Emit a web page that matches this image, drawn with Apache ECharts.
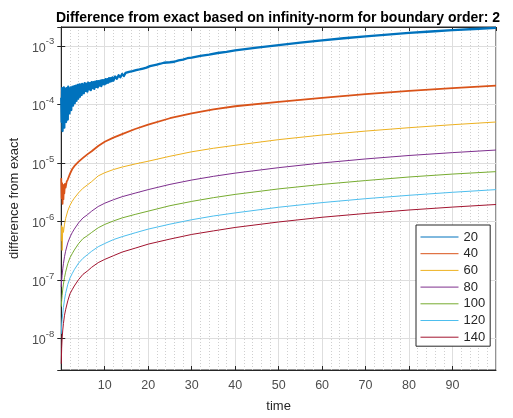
<!DOCTYPE html>
<html><head><meta charset="utf-8">
<script src="https://cdn.jsdelivr.net/npm/echarts@6/dist/echarts.min.js"></script>
<style>html,body{margin:0;padding:0;background:#fff}#c{width:513px;height:418px}</style>
</head><body><div id="c"></div>
<script>
const titleText = 'Difference from exact based on infinity-norm for boundary order: 2';
const seriesNames = ['20', '40', '60', '80', '100', '120', '140'];
const colors = ['#0072BD', '#D95319', '#EDB120', '#7E2F8E', '#77AC30', '#4DBEEE', '#A2142F'];
const xTickLabels = [10, 20, 30, 40, 50, 60, 70, 80, 90];

// N = 20 : [time, difference] (noisy)
const blueData = [
  [0.0,1.3e-4],[0.1,5.0e-5],[0.2,1.9e-4],[0.3,3.5e-5],[0.4,1.6e-4],[0.5,6.5e-5],[0.6,1.95e-4],[0.7,4.0e-5],[0.8,1.7e-4],[0.9,8.0e-5],
  [1.0,1.85e-4],[1.1,5.0e-5],[1.2,1.9e-4],[1.3,9.0e-5],[1.4,1.75e-4],[1.5,5.5e-5],[1.6,2.0e-4],[1.7,1.0e-4],[1.8,1.8e-4],[1.9,7.0e-5],
  [2.0,1.9e-4],[2.1,1.1e-4],[2.2,1.95e-4],[2.3,8.0e-5],[2.4,1.85e-4],[2.5,1.2e-4],[2.6,2.0e-4],[2.7,9.5e-5],[2.8,1.9e-4],[2.9,1.3e-4],
  [3.0,2.05e-4],[3.1,1.05e-4],[3.2,1.95e-4],[3.3,1.4e-4],[3.4,2.1e-4],[3.5,1.15e-4],[3.6,2.0e-4],[3.7,1.45e-4],[3.8,2.15e-4],[3.9,1.25e-4],
  [4.0,2.1e-4],[4.1,1.5e-4],[4.2,2.2e-4],[4.3,1.35e-4],[4.4,2.15e-4],[4.5,1.55e-4],[4.6,2.2e-4],[4.7,1.45e-4],[4.8,2.25e-4],[4.9,1.6e-4],
  [5.0,2.2e-4],[5.2,1.55e-4],[5.4,2.3e-4],[5.6,1.7e-4],[5.8,2.25e-4],[6.0,1.65e-4],[6.2,2.35e-4],[6.4,1.8e-4],[6.6,2.3e-4],[6.8,1.75e-4],
  [7.0,2.4e-4],[7.2,1.9e-4],[7.4,2.4e-4],[7.6,1.85e-4],[7.8,2.45e-4],[8.0,2.0e-4],[8.2,2.5e-4],[8.4,1.95e-4],[8.6,2.5e-4],[8.8,2.1e-4],
  [9.0,2.55e-4],[9.2,2.05e-4],[9.4,2.6e-4],[9.6,2.2e-4],[9.8,2.6e-4],[10.0,2.2e-4],[10.2,2.7e-4],[10.4,2.3e-4],[10.6,2.7e-4],[10.8,2.35e-4],
  [11.0,2.8e-4],[11.2,2.45e-4],[11.4,2.8e-4],[11.6,2.5e-4],[11.8,2.9e-4],[12.0,2.55e-4],[12.4,3.0e-4],[12.8,2.75e-4],[13.2,3.15e-4],[13.6,2.9e-4],
  [14.0,3.3e-4],[14.4,3.05e-4],[14.8,3.45e-4],[15.2,3.2e-4],[15.6,3.6e-4],[16.0,3.35e-4],[16.4,3.7e-4],[16.8,3.5e-4],[17.2,3.85e-4],[17.6,3.6e-4],
  [18.0,3.95e-4],[18.4,3.75e-4],[18.8,4.1e-4],[19.2,3.9e-4],[19.6,4.25e-4],[20.0,4.15e-4],[20.4,4.5e-4],[20.8,4.3e-4],[21.2,4.65e-4],[21.6,4.5e-4],
  [22.0,4.8e-4],[22.4,4.6e-4],[22.8,4.95e-4],[23.2,4.8e-4],[23.6,5.15e-4],[24.0,4.95e-4],[25,5.25e-4],[26,5.35e-4],[27,5.65e-4],[28,5.8e-4],
  [29,6.15e-4],[30,6.3e-4],[32,6.75e-4],[34,7.1e-4],[36,7.55e-4],[38,7.9e-4],[40,8.35e-4],[45,9.3e-4],[50,1.03e-3],[55,1.14e-3],
  [60,1.24e-3],[65,1.35e-3],[70,1.45e-3],[75,1.56e-3],[80,1.66e-3],[85,1.76e-3],[90,1.85e-3],[95,1.94e-3],[100,2.03e-3]
];

// N = 40 (slightly noisy near t = 0)
const orangeTimes = [0, 0.1, 0.2, 0.3, 0.4, 0.5, 0.6, 0.7, 0.85, 1, 1.25, 1.5, 2, 2.5, 3, 4, 5, 6, 7, 8.5, 10, 12, 14, 17, 20, 25, 30, 35, 40, 50, 60, 70, 80, 90, 100];
const orangeValues = [5.5e-6, 2.5e-6, 4.5e-6, 2.0e-6, 4.0e-6, 2.4e-6, 4.2e-6, 3.0e-6, 4.4e-6, 3.8e-6, 4.8e-6, 5.2e-6, 6.5e-6, 7.8e-6, 8.8e-6, 1.05e-5, 1.22e-5, 1.4e-5, 1.58e-5, 1.95e-5, 2.3e-5, 2.7e-5, 3.1e-5, 3.8e-5, 4.5e-5, 5.8e-5, 7e-5, 8.2e-5, 9.3e-5, 1.1e-4, 1.29e-4, 1.5e-4, 1.7e-4, 1.9e-4, 2.1e-4];

// N = 60 ... 140, shared time samples
const times = [0, 0.1, 0.2, 0.35, 0.5, 0.75, 1, 1.5, 2, 2.5, 3, 4, 5, 6, 7, 8.5, 10, 12, 14, 17, 20, 25, 30, 35, 40, 50, 60, 70, 80, 90, 100];
const yellowValues = [4.6e-7, 8.5e-7, 3.2e-7, 8e-7, 6.5e-7, 9e-7, 1.12e-6, 1.52e-6, 1.88e-6, 2.2e-6, 2.5e-6, 3.1e-6, 3.7e-6, 4.2e-6, 4.8e-6, 6.0e-6, 6.8e-6, 7.7e-6, 8.5e-6, 9.6e-6, 1.07e-5, 1.3e-5, 1.55e-5, 1.78e-5, 2.0e-5, 2.5e-5, 3.0e-5, 3.5e-5, 4.0e-5, 4.5e-5, 5.0e-5];
const purpleValues = [7.6e-8, 1.0e-7, 1.2e-7, 1.55e-7, 1.9e-7, 2.5e-7, 3.1e-7, 4.3e-7, 5.4e-7, 6.4e-7, 7.4e-7, 9.5e-7, 1.15e-6, 1.3e-6, 1.5e-6, 1.8e-6, 2.05e-6, 2.35e-6, 2.65e-6, 3.05e-6, 3.5e-6, 4.3e-6, 5.1e-6, 5.9e-6, 6.7e-6, 8.3e-6, 1.0e-5, 1.17e-5, 1.34e-5, 1.5e-5, 1.66e-5];
const greenValues = [3.5e-8, 4.5e-8, 5.4e-8, 7e-8, 8.5e-8, 1.1e-7, 1.36e-7, 1.9e-7, 2.4e-7, 2.8e-7, 3.25e-7, 4.2e-7, 5.1e-7, 5.7e-7, 6.5e-7, 7.8e-7, 8.9e-7, 1.02e-6, 1.15e-6, 1.32e-6, 1.5e-6, 1.86e-6, 2.2e-6, 2.55e-6, 2.9e-6, 3.6e-6, 4.3e-6, 5.0e-6, 5.75e-6, 6.45e-6, 7.1e-6];
const cyanValues = [1.2e-8, 1.7e-8, 2.1e-8, 2.7e-8, 3.4e-8, 4.6e-8, 5.9e-8, 8.4e-8, 1.08e-7, 1.28e-7, 1.5e-7, 1.95e-7, 2.35e-7, 2.7e-7, 3.1e-7, 3.7e-7, 4.2e-7, 4.9e-7, 5.5e-7, 6.4e-7, 7.4e-7, 9.0e-7, 1.07e-6, 1.24e-6, 1.4e-6, 1.75e-6, 2.1e-6, 2.45e-6, 2.8e-6, 3.15e-6, 3.5e-6];
const maroonValues = [3.7e-9, 7e-9, 1.0e-8, 1.4e-8, 1.8e-8, 2.5e-8, 3.1e-8, 4.4e-8, 5.8e-8, 6.8e-8, 7.9e-8, 1.02e-7, 1.25e-7, 1.42e-7, 1.65e-7, 1.98e-7, 2.25e-7, 2.6e-7, 3.0e-7, 3.5e-7, 4.1e-7, 5.0e-7, 6.0e-7, 6.9e-7, 7.9e-7, 9.8e-7, 1.18e-6, 1.37e-6, 1.57e-6, 1.76e-6, 1.95e-6];

const yMin = 2.9e-9, yMax = 2.1e-3;

function zip(t, v) { return t.map((x, i) => [x, v[i]]); }

const minorGridValues = [];
for (let e = -9; e <= -3; e++) {
  for (let k = 2; k <= 9; k++) {
    const v = k * Math.pow(10, e);
    if (v > yMin && v < yMax) minorGridValues.push(v);
  }
}

const textColor = '#262626';
const labelColor = '#4d4d4d';
const font = 'Liberation Sans, Arial, Helvetica, sans-serif';

const seriesData = [
  blueData,
  zip(orangeTimes, orangeValues),
  zip(times, yellowValues),
  zip(times, purpleValues),
  zip(times, greenValues),
  zip(times, cyanValues),
  zip(times, maroonValues)
];
const widths = [2.3, 1.8, 1, 1, 1, 1, 1];

const series = seriesData.map((d, i) => ({
  name: seriesNames[i],
  type: 'line',
  data: d,
  showSymbol: false,
  symbol: 'none',
  smooth: false,
  lineStyle: { color: colors[i], width: widths[i], join: 'round' },
  itemStyle: { color: colors[i] },
  z: 3 + i,
  animation: false
}));

series.push({
  name: '_grid',
  type: 'line',
  data: [],
  silent: true,
  markLine: {
    silent: true,
    symbol: 'none',
    z: 1,
    animation: false,
    label: { show: false },
    lineStyle: { color: '#bdbdbd', type: [1, 2], width: 1 },
    data: minorGridValues.map(v => ({ yAxis: v }))
  }
});

const chart = echarts.init(document.getElementById('c'), null, { renderer: 'canvas' });
chart.setOption({
  backgroundColor: '#fff',
  animation: false,
  color: colors,
  title: {
    text: titleText,
    left: 273, top: 6, textAlign: 'center',
    textStyle: { fontFamily: font, fontSize: 14, fontWeight: 'bold', color: '#000' }
  },
  grid: { left: 60, right: 17, top: 27, bottom: 47, show: true, borderColor: '#262626', borderWidth: 1, backgroundColor: 'transparent' },
  legend: {
    data: seriesNames,
    orient: 'vertical',
    left: 416, top: 225,
    padding: [5, 5, 2, 4],
    itemWidth: 38, itemHeight: 14, itemGap: 2.7,
    itemTextGap: 4,
    backgroundColor: '#fff',
    borderColor: '#262626', borderWidth: 1,
    itemStyle: { opacity: 0, borderWidth: 0 },
    lineStyle: { width: 1 },
    textStyle: { fontFamily: font, fontSize: 13, color: textColor, lineHeight: 14 }
  },
  xAxis: [{
    type: 'value', min: 0, max: 100, interval: 10,
    name: 'time', nameLocation: 'middle', nameGap: 30,
    nameTextStyle: { fontFamily: font, fontSize: 13, color: textColor },
    axisLine: { show: true, lineStyle: { color: '#262626' } },
    axisTick: { show: true, inside: true, length: 4, lineStyle: { color: '#262626' } },
    axisLabel: {
      fontFamily: font, fontSize: 12.5, color: labelColor, margin: 9,
      showMinLabel: false, showMaxLabel: false,
      formatter: v => (xTickLabels.indexOf(v) >= 0 ? String(v) : '')
    },
    splitLine: { show: true, lineStyle: { color: '#dedede', width: 1 } },
    minorTick: { show: false, splitNumber: 5 },
    minorSplitLine: { show: true, lineStyle: { color: '#cfcfcf', type: [1, 2], width: 1 } }
  }, {
    type: 'value', min: 0, max: 100, interval: 10, position: 'top',
    axisLine: { show: true, lineStyle: { color: '#262626' } },
    axisTick: { show: true, inside: true, length: 4, lineStyle: { color: '#262626' } },
    axisLabel: { show: false }, splitLine: { show: false }
  }],
  yAxis: [{
    type: 'log', logBase: 10, min: yMin, max: yMax,
    name: 'difference from exact', nameLocation: 'middle', nameGap: 40, nameRotate: 90,
    nameTextStyle: { fontFamily: font, fontSize: 13, color: textColor },
    axisLine: { show: true, lineStyle: { color: '#262626' } },
    axisTick: { show: true, inside: true, length: 4, lineStyle: { color: '#262626' } },
    axisLabel: {
      showMinLabel: false, showMaxLabel: false, margin: 7,
      formatter: v => {
        const e = Math.round(Math.log10(v));
        if (Math.abs(Math.log10(v) - e) > 1e-6) return '';
        return '{b|10}{s|' + e + '}';
      },
      rich: {
        b: { fontFamily: font, fontSize: 12.5, color: labelColor, verticalAlign: 'bottom', lineHeight: 18 },
        s: { fontFamily: font, fontSize: 9.5, color: labelColor, verticalAlign: 'top', lineHeight: 18 }
      }
    },
    splitLine: { show: true, lineStyle: { color: '#dedede', width: 1 } }
  }, {
    type: 'log', logBase: 10, min: yMin, max: yMax, position: 'right',
    axisLine: { show: true, lineStyle: { color: '#262626' } },
    axisTick: { show: true, inside: true, length: 4, lineStyle: { color: '#262626' } },
    axisLabel: { show: false }, splitLine: { show: false }
  }],
  series: series
});
</script>
</body></html>
